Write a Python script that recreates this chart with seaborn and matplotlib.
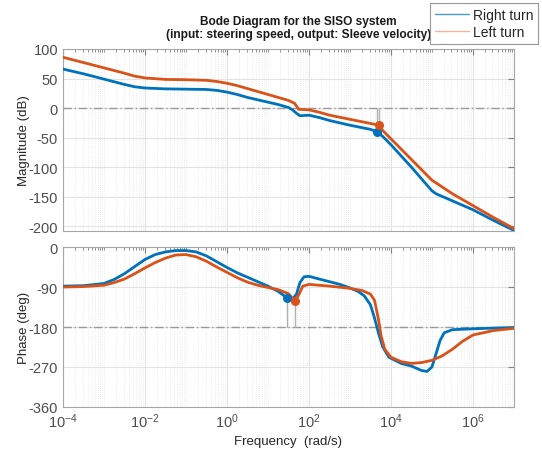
import numpy as np
import pandas as pd
import seaborn as sns
import matplotlib.pyplot as plt
from matplotlib.ticker import LogLocator, LogFormatterMathtext, NullFormatter, FixedLocator
from matplotlib.lines import Line2D

# magnitude (dB), frequency given as log10(rad/s)
mag_right_logw = [-4.0, -3.5, -3.0, -2.5, -2.25, -2.0, -1.5, -1.0, -0.5, -0.25, 0.0, 0.25, 0.5, 0.75,
                  1.0, 1.25, 1.5, 1.6, 1.7, 1.78, 2.0, 2.25, 2.5, 3.0, 3.5, 3.66, 3.8, 4.0, 4.5, 4.9,
                  5.0, 5.1, 5.5, 6.0, 6.5, 7.0]
mag_right_db = [66, 58, 49, 40, 36, 34, 32.5, 32, 31.5, 30, 27, 23, 18, 14,
                10, 6, 1, -3, -9, -13, -12, -16, -21, -29, -36, -40, -48, -62, -100, -132,
                -140, -145, -157, -172, -190, -207]

mag_left_logw = [-4.0, -3.5, -3.0, -2.5, -2.25, -2.0, -1.5, -1.0, -0.5, -0.25, 0.0, 0.25, 0.5, 0.75,
                 1.0, 1.25, 1.5, 1.65, 1.75, 2.0, 2.25, 2.5, 3.0, 3.5, 3.7, 3.8, 4.0, 4.5, 5.0,
                 5.5, 6.0, 6.5, 7.0]
mag_left_db = [86, 77, 68, 59, 54, 51, 48.5, 48, 47, 45, 42, 38, 33, 28,
               23, 18, 13, 8, -2, -3, -7, -12, -19, -26, -29, -38, -52, -87, -122,
               -145, -165, -185, -204]

# phase (deg)
ph_right_logw = [-4.0, -3.5, -3.0, -2.75, -2.5, -2.25, -2.0, -1.75, -1.5, -1.25, -1.0, -0.75, -0.5,
                 -0.25, 0.0, 0.25, 0.5, 0.75, 1.0, 1.25, 1.4, 1.47, 1.6, 1.7, 1.78, 1.88, 2.0,
                 2.25, 2.5, 2.75, 3.0, 3.2, 3.35, 3.5, 3.6, 3.7, 3.8, 3.95, 4.25, 4.5, 4.75,
                 4.88, 5.0, 5.1, 5.2, 5.3, 5.5, 6.0, 7.0]
ph_right_deg = [-88, -87, -82, -73, -60, -44, -28, -17, -11, -8, -8, -11, -20,
                -33, -46, -58, -68, -78, -88, -100, -110, -115, -118, -105, -80, -67, -66,
                -72, -78, -84, -92, -100, -110, -130, -160, -195, -225, -248, -262, -268, -278,
                -280, -270, -240, -210, -193, -186, -184, -181]

ph_left_logw = [-4.0, -3.5, -3.0, -2.75, -2.5, -2.25, -2.0, -1.75, -1.5, -1.25, -1.0, -0.75, -0.5,
                -0.25, 0.0, 0.25, 0.5, 0.75, 1.0, 1.25, 1.5, 1.6, 1.66, 1.75, 1.85, 2.0, 2.5,
                3.0, 3.3, 3.5, 3.6, 3.7, 3.76, 3.85, 4.0, 4.25, 4.5, 4.75, 5.0, 5.25, 5.5,
                5.75, 6.0, 6.5, 7.0]
ph_left_deg = [-90, -89, -86, -80, -72, -60, -47, -35, -25, -18, -17, -22, -32,
               -45, -57, -69, -79, -86, -91, -96, -105, -115, -121, -108, -88, -84, -88,
               -93, -98, -106, -120, -165, -200, -230, -248, -258, -262, -260, -255, -245, -230,
               -212, -198, -188, -183]

# stability margin points: (log10 w, value)
gm_right = (3.66, -40)
gm_left = (3.70, -29)
pm_right = (1.47, -115)
pm_left = (1.66, -121)

blue = '#0072BD'
orange = '#D95319'

sns.set_style('white')
plt.rcParams['font.family'] = ['Liberation Sans', 'DejaVu Sans']
plt.rcParams['mathtext.default'] = 'regular'
plt.rcParams['axes.unicode_minus'] = False

mag = pd.concat([
    pd.DataFrame({'w': 10.0 ** np.array(mag_right_logw), 'val': mag_right_db, 'case': 'Right turn'}),
    pd.DataFrame({'w': 10.0 ** np.array(mag_left_logw), 'val': mag_left_db, 'case': 'Left turn'}),
])
ph = pd.concat([
    pd.DataFrame({'w': 10.0 ** np.array(ph_right_logw), 'val': ph_right_deg, 'case': 'Right turn'}),
    pd.DataFrame({'w': 10.0 ** np.array(ph_left_logw), 'val': ph_left_deg, 'case': 'Left turn'}),
])
pal = {'Right turn': blue, 'Left turn': orange}

fig = plt.figure(figsize=(5.42, 4.56), dpi=100)
ax1 = fig.add_axes([0.1162, 0.4912, 0.832, 0.3992])
ax2 = fig.add_axes([0.1162, 0.1053, 0.832, 0.3508])

for ax in (ax1, ax2):
    ax.set_xscale('log')
    ax.set_xlim(1e-4, 1e7)

# reference lines
ax1.axhline(0, color='#999999', lw=1, ls=(0, (6, 2, 1, 2)), zorder=1)
ax2.axhline(-180, color='#999999', lw=1, ls=(0, (6, 2, 1, 2)), zorder=1)

# margin verticals
for p in (gm_right, gm_left):
    ax1.plot([10 ** p[0]] * 2, [0, p[1]], color='#b0b0b0', lw=1, zorder=2)
for p in (pm_right, pm_left):
    ax2.plot([10 ** p[0]] * 2, [-180, p[1]], color='#b0b0b0', lw=1, zorder=2)

sns.lineplot(data=mag, x='w', y='val', hue='case', palette=pal, sort=False,
             estimator=None, lw=2, legend=False, ax=ax1, zorder=3)
sns.lineplot(data=ph, x='w', y='val', hue='case', palette=pal, sort=False,
             estimator=None, lw=2, legend=False, ax=ax2, zorder=3)

ax1.scatter([10 ** gm_right[0]], [gm_right[1]], s=30, color=blue, zorder=4)
ax1.scatter([10 ** gm_left[0]], [gm_left[1]], s=30, color=orange, zorder=4)
ax2.scatter([10 ** pm_right[0]], [pm_right[1]], s=30, color=blue, zorder=4)
ax2.scatter([10 ** pm_left[0]], [pm_left[1]], s=30, color=orange, zorder=4)

ax1.set_ylim(-208, 100)
ax1.set_yticks([100, 50, 0, -50, -100, -150, -200])
ax2.set_ylim(-360, 0)
ax2.set_yticks([0, -90, -180, -270, -360])

for ax in (ax1, ax2):
    ax.xaxis.set_major_locator(FixedLocator([1e-4, 1e-2, 1e0, 1e2, 1e4, 1e6]))
    ax.xaxis.set_minor_locator(LogLocator(base=10, subs=np.arange(1, 10), numticks=100))
    ax.xaxis.set_minor_formatter(NullFormatter())
    ax.grid(True, which='major', color='#e3e3e3', lw=0.8)
    ax.grid(True, which='minor', axis='x', color='#dcdcdc', lw=0.5, ls=(0, (1, 2)))
    ax.tick_params(which='both', direction='in', top=True, right=True, colors='#808080',
                   labelcolor='#4d4d4d', labelsize=10.5)
    ax.tick_params(which='major', length=4)
    ax.tick_params(which='minor', length=2)
    for s in ax.spines.values():
        s.set_color('#a6a6a6')
        s.set_linewidth(0.8)
    ax.set_xlabel('')
    ax.set_ylabel('')

ax1.xaxis.set_major_formatter(NullFormatter())
ax2.xaxis.set_major_formatter(LogFormatterMathtext())

ax1.set_ylabel('Magnitude (dB)', fontsize=9.5, color='#262626', labelpad=-1)
ax2.set_ylabel('Phase (deg)', fontsize=9.5, color='#262626', labelpad=-1)
ax2.set_xlabel('Frequency  (rad/s)', fontsize=9.5, color='#262626', labelpad=3)

fig.text(0.551, 0.952, 'Bode Diagram for the SISO system', ha='center', va='center',
         fontsize=8.6, fontweight='bold', color='#1a1a1a')
fig.text(0.551, 0.923, '(input: steering speed, output: Sleeve velocity)', ha='center', va='center',
         fontsize=8.6, fontweight='bold', color='#1a1a1a')

handles = [Line2D([], [], color='#4a9ad6', lw=1.0), Line2D([], [], color='#f2b4a0', lw=1.0)]
leg = fig.legend(handles, ['Right turn', 'Left turn'], loc='upper right',
                 bbox_to_anchor=(0.998, 0.998), fontsize=10, frameon=True, fancybox=False,
                 handlelength=2.4, borderpad=0.35, labelspacing=0.25, handletextpad=0.3,
                 borderaxespad=0.2)
leg.get_frame().set_edgecolor('#999999')
leg.get_frame().set_linewidth(0.8)
leg.get_frame().set_alpha(1)

fig.savefig('out.png', dpi=100)
